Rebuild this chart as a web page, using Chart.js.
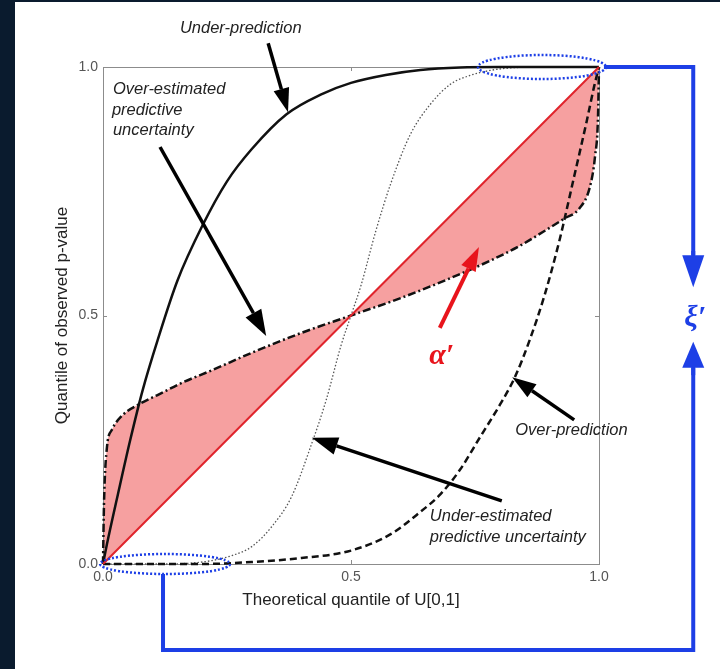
<!DOCTYPE html>
<html>
<head>
<meta charset="utf-8">
<script src="https://cdn.jsdelivr.net/npm/chart.js@4.4.1/dist/chart.umd.min.js"></script>
<style>
  html, body { margin: 0; padding: 0; background: #0a1b2e; }
  #wrap { width: 720px; height: 669px; }
</style>
</head>
<body>
<div id="wrap"><canvas id="qqPlot" width="720" height="669"></canvas></div>
<script>
// Axis ticks
const tickValues = [0, 0.5, 1];

// 1:1 line
const diagX = [0, 1];
const diagY = [0, 1];

// Under-prediction (solid)
const underPredX = [0, 0.008, 0.03, 0.055, 0.08, 0.11, 0.15, 0.2, 0.25, 0.3, 0.37, 0.44, 0.5, 0.57, 0.64, 0.72, 0.8, 1];
const underPredY = [0, 0.04, 0.14, 0.25, 0.35, 0.45, 0.57, 0.68, 0.77, 0.835, 0.905, 0.945, 0.968, 0.984, 0.994, 0.999, 1, 1];

// Over-prediction (dashed)
const overPredX = [0, 0.2, 0.3, 0.4, 0.5, 0.58, 0.64, 0.68, 0.72, 0.76, 0.8, 0.83, 0.86, 0.89, 0.92, 0.95, 0.975, 0.99, 1];
const overPredY = [0, 0, 0.004, 0.012, 0.027, 0.06, 0.105, 0.14, 0.19, 0.255, 0.32, 0.375, 0.45, 0.54, 0.65, 0.78, 0.89, 0.96, 1];

// Over-estimated predictive uncertainty (dash-dot)
const overEstX = [0, 0.002, 0.008, 0.018, 0.04, 0.07, 0.11, 0.16, 0.22, 0.3, 0.4, 0.5, 0.6, 0.7, 0.78, 0.84, 0.89, 0.93, 0.96, 0.982, 0.992, 0.998, 1];
const overEstY = [0, 0.12, 0.235, 0.27, 0.3, 0.32, 0.34, 0.365, 0.39, 0.425, 0.465, 0.5, 0.535, 0.575, 0.61, 0.64, 0.67, 0.695, 0.715, 0.76, 0.82, 0.9, 1];

// Under-estimated predictive uncertainty (dotted)
const underEstX = [0, 0.12, 0.18, 0.22, 0.26, 0.3, 0.34, 0.38, 0.42, 0.45, 0.48, 0.5, 0.52, 0.55, 0.58, 0.62, 0.66, 0.7, 0.74, 0.78, 0.82, 0.88, 1];
const underEstY = [0, 0, 0.002, 0.007, 0.017, 0.035, 0.075, 0.135, 0.24, 0.33, 0.44, 0.5, 0.56, 0.67, 0.765, 0.865, 0.925, 0.965, 0.983, 0.993, 0.998, 1, 1];

function toPoints(xs, ys) {
    return xs.map((x, i) => ({ x: x, y: ys[i] }));
}

const BLUE = '#1d3fe6';
const RED = '#e8141c';
const TEXT_FONT = 'italic 16.5px "Liberation Sans", Arial, sans-serif';

function drawArrow(ctx, x1, y1, x2, y2, color, width, headLen, headHalf) {
    const ang = Math.atan2(y2 - y1, x2 - x1);
    const bx = x2 - headLen * Math.cos(ang);
    const by = y2 - headLen * Math.sin(ang);
    ctx.strokeStyle = color;
    ctx.lineWidth = width;
    ctx.beginPath();
    ctx.moveTo(x1, y1);
    ctx.lineTo(bx, by);
    ctx.stroke();
    ctx.fillStyle = color;
    ctx.beginPath();
    ctx.moveTo(x2, y2);
    ctx.lineTo(bx + headHalf * Math.sin(ang), by - headHalf * Math.cos(ang));
    ctx.lineTo(bx - headHalf * Math.sin(ang), by + headHalf * Math.cos(ang));
    ctx.closePath();
    ctx.fill();
}

// Page background: dark strip plus white panel
const panelBackground = {
    id: 'panelBackground',
    beforeDraw(chart) {
        const ctx = chart.ctx;
        ctx.save();
        ctx.fillStyle = '#0a1b2e';
        ctx.fillRect(0, 0, chart.width, chart.height);
        ctx.fillStyle = '#ffffff';
        ctx.fillRect(15, 2, chart.width - 15, chart.height - 2);
        ctx.restore();
    }
};

// Box frame with inward ticks
const axesFrame = {
    id: 'axesFrame',
    beforeDatasetsDraw(chart) {
        const { ctx, chartArea: a, scales } = chart;
        ctx.save();
        ctx.strokeStyle = '#8c8c8c';
        ctx.lineWidth = 1;
        ctx.strokeRect(a.left + 0.5, a.top + 0.5, a.right - a.left, a.bottom - a.top);
        ctx.beginPath();
        scales.x.ticks.forEach(t => {
            const px = Math.round(scales.x.getPixelForValue(t.value)) + 0.5;
            ctx.moveTo(px, a.bottom); ctx.lineTo(px, a.bottom - 4);
            ctx.moveTo(px, a.top); ctx.lineTo(px, a.top + 4);
        });
        scales.y.ticks.forEach(t => {
            const py = Math.round(scales.y.getPixelForValue(t.value)) + 0.5;
            ctx.moveTo(a.left, py); ctx.lineTo(a.left + 4, py);
            ctx.moveTo(a.right, py); ctx.lineTo(a.right - 4, py);
        });
        ctx.stroke();
        ctx.restore();
    }
};

// Arrows, labels, ellipses and the xi bracket
const annotations = {
    id: 'annotations',
    afterDatasetsDraw(chart) {
        const ctx = chart.ctx;
        const X = v => chart.scales.x.getPixelForValue(v);
        const Y = v => chart.scales.y.getPixelForValue(v);
        ctx.save();

        // black pointer arrows
        drawArrow(ctx, X(0.333), Y(1.048), X(0.373), Y(0.909), '#000', 3.5, 24, 8);
        drawArrow(ctx, X(0.115), Y(0.839), X(0.329), Y(0.459), '#000', 3.5, 26, 9);
        drawArrow(ctx, X(0.950), Y(0.290), X(0.825), Y(0.376), '#000', 3.5, 24, 8);
        drawArrow(ctx, X(0.804), Y(0.127), X(0.421), Y(0.254), '#000', 3.5, 26, 9);

        // red alpha arrow
        drawArrow(ctx, X(0.679), Y(0.475), X(0.758), Y(0.638), RED, 4, 24, 8);

        // italic labels
        ctx.fillStyle = '#222';
        ctx.font = TEXT_FONT;
        ctx.textAlign = 'left';
        ctx.textBaseline = 'middle';
        ctx.fillText('Under-prediction', X(0.155), Y(1.078));
        ctx.fillText('Over-estimated', X(0.020), Y(0.954));
        ctx.fillText('predictive', X(0.018), Y(0.913));
        ctx.fillText('uncertainty', X(0.020), Y(0.873));
        ctx.fillText('Over-prediction', X(0.831), Y(0.268));
        ctx.fillText('Under-estimated', X(0.659), Y(0.095));
        ctx.fillText('predictive uncertainty', X(0.659), Y(0.054));

        // greek labels
        ctx.textAlign = 'center';
        ctx.font = 'bold italic 30px "Liberation Serif", "DejaVu Serif", serif';
        ctx.fillStyle = RED;
        ctx.fillText('\u03B1\u2032', X(0.683), Y(0.418));
        ctx.fillStyle = BLUE;
        ctx.fillText('\u03BE\u2032', X(1.194), Y(0.495));

        // dotted ellipses at the two ends
        ctx.strokeStyle = BLUE;
        ctx.lineWidth = 2.5;
        ctx.setLineDash([2, 2]);
        const bx = X(0.125), brx = X(0.256) - X(0.125), bry = 10;
        const tx = X(0.885), trx = X(1.014) - X(0.885), tRy = 12;
        ctx.beginPath();
        ctx.ellipse(bx, Y(0), brx, bry, 0, 0, Math.PI * 2);
        ctx.stroke();
        ctx.beginPath();
        ctx.ellipse(tx, Y(1), trx, tRy, 0, 0, Math.PI * 2);
        ctx.stroke();
        ctx.setLineDash([]);

        // bracket linking the ellipses
        const xr = X(1.19);
        const xl = X(0.121);
        const yb = Y(-0.173);
        ctx.lineWidth = 4;
        ctx.lineJoin = 'miter';
        ctx.beginPath();
        ctx.moveTo(tx + trx - 2, Y(1));
        ctx.lineTo(xr, Y(1));
        ctx.lineTo(xr, Y(0.61));
        ctx.stroke();
        ctx.beginPath();
        ctx.moveTo(xr, Y(0.41));
        ctx.lineTo(xr, yb);
        ctx.lineTo(xl, yb);
        ctx.lineTo(xl, Y(0) + bry);
        ctx.stroke();
        drawArrow(ctx, xr, Y(0.63), xr, Y(0.557), BLUE, 4, 32, 11);
        drawArrow(ctx, xr, Y(0.38), xr, Y(0.447), BLUE, 4, 26, 11);

        ctx.restore();
    }
};

const lineDefaults = {
    pointRadius: 0,
    fill: false,
    cubicInterpolationMode: 'monotone',
    clip: 6
};

new Chart(document.getElementById('qqPlot'), {
    type: 'line',
    data: {
        datasets: [
            {
                ...lineDefaults,
                label: '1:1',
                data: toPoints(diagX, diagY),
                borderColor: '#e0242c',
                borderWidth: 2
            },
            {
                ...lineDefaults,
                label: 'Over-estimated predictive uncertainty',
                data: toPoints(overEstX, overEstY),
                borderColor: '#111',
                borderWidth: 2.5,
                borderDash: [8, 3, 2, 3],
                backgroundColor: 'rgba(246, 160, 160, 1)',
                fill: { target: 0 }
            },
            {
                ...lineDefaults,
                label: 'Under-prediction',
                data: toPoints(underPredX, underPredY),
                borderColor: '#111',
                borderWidth: 2.5
            },
            {
                ...lineDefaults,
                label: 'Over-prediction',
                data: toPoints(overPredX, overPredY),
                borderColor: '#111',
                borderWidth: 2.5,
                borderDash: [7, 4]
            },
            {
                ...lineDefaults,
                label: 'Under-estimated predictive uncertainty',
                data: toPoints(underEstX, underEstY),
                borderColor: '#555',
                borderWidth: 1.3,
                borderDash: [1.5, 2]
            }
        ]
    },
    options: {
        responsive: false,
        animation: false,
        layout: {
            padding: { top: 67, right: 121, left: 0, bottom: 0 }
        },
        plugins: {
            legend: { display: false },
            tooltip: { enabled: false },
            // shade under every curve, not just the ones drawn later
            filler: { drawTime: 'beforeDatasetsDraw' }
        },
        scales: {
            x: {
                type: 'linear',
                min: 0,
                max: 1,
                afterFit(scale) { scale.height = 105; },
                afterBuildTicks(scale) { scale.ticks = tickValues.map(v => ({ value: v })); },
                grid: { display: false, drawTicks: false },
                border: { display: false },
                ticks: {
                    padding: 5,
                    color: '#555',
                    font: { family: '"Liberation Sans", Arial, sans-serif', size: 14 },
                    callback: v => v.toFixed(1)
                },
                title: {
                    display: true,
                    text: 'Theoretical quantile of U[0,1]',
                    color: '#222',
                    font: { family: '"Liberation Sans", Arial, sans-serif', size: 17 },
                    padding: { top: 0, bottom: 58 }
                }
            },
            y: {
                type: 'linear',
                min: 0,
                max: 1,
                afterFit(scale) { scale.width = 103; },
                afterBuildTicks(scale) { scale.ticks = tickValues.map(v => ({ value: v })); },
                grid: { display: false, drawTicks: false },
                border: { display: false },
                ticks: {
                    padding: 5,
                    color: '#555',
                    font: { family: '"Liberation Sans", Arial, sans-serif', size: 14 },
                    callback: v => v.toFixed(1)
                },
                title: {
                    display: true,
                    text: 'Quantile of observed p-value',
                    color: '#222',
                    font: { family: '"Liberation Sans", Arial, sans-serif', size: 17 },
                    padding: { top: 52, bottom: 0 }
                }
            }
        }
    },
    plugins: [panelBackground, axesFrame, annotations]
});
</script>
</body>
</html>
